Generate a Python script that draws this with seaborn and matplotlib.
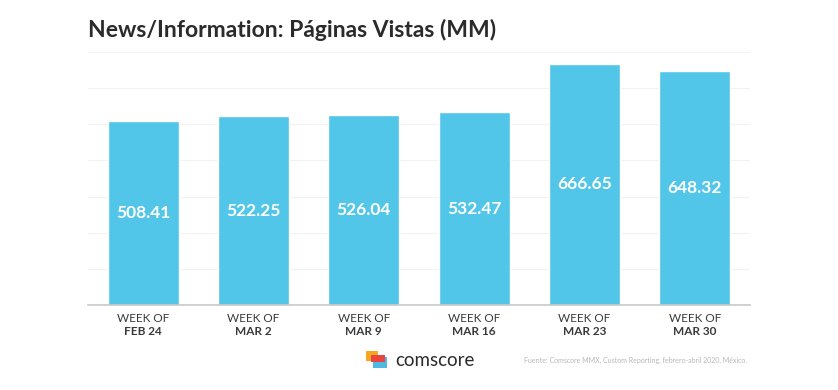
import matplotlib
matplotlib.use('Agg')
import matplotlib.pyplot as plt
import matplotlib.patches as mpatches
import matplotlib.transforms as mtransforms
import seaborn as sns
import pandas as pd

weeks = ['FEB 24', 'MAR 2', 'MAR 9', 'MAR 16', 'MAR 23', 'MAR 30']
page_views = [508.41, 522.25, 526.04, 532.47, 666.65, 648.32]
yticks = [0, 100, 200, 300, 400, 500, 600, 700]

title = 'News/Information: Páginas Vistas (MM)'
source = 'Fuente: Comscore MMX, Custom Reporting, febrero-abril 2020, México.'

bar_color = '#52c6e8'
text_dark = '#2b2b2b'


def main():
    sns.set_style('white')
    plt.rcParams['font.family'] = ['Lato', 'DejaVu Sans']

    df = pd.DataFrame({'week': weeks, 'views': page_views})

    fig = plt.figure(figsize=(8.38, 3.9), dpi=100)
    ax = fig.add_axes([0.105, 0.218, 0.79, 0.649])

    sns.barplot(data=df, x='week', y='views', color=bar_color,
                saturation=1, width=0.645, ax=ax, zorder=2)

    ax.set_ylim(0, 700)
    ax.set_xlim(-0.5, 5.5)
    ax.set_yticks(yticks)
    ax.yaxis.grid(True, color='#f2f2f2', linewidth=0.8, zorder=0)
    ax.set_axisbelow(True)
    ax.tick_params(axis='y', left=False, labelleft=False)
    ax.tick_params(axis='x', bottom=False, labelbottom=False)
    for side in ['top', 'right', 'left']:
        ax.spines[side].set_visible(False)
    ax.spines['bottom'].set_color('#c8c8c8')
    ax.spines['bottom'].set_linewidth(1.2)
    ax.set_xlabel('')
    ax.set_ylabel('')

    # two-line category labels: "WEEK OF" regular, date bold
    trans = mtransforms.blended_transform_factory(ax.transData, ax.transAxes)
    for i, w in enumerate(weeks):
        ax.text(i, -0.052, 'WEEK OF', transform=trans, ha='center', va='center',
                fontsize=8.5, color='#3a3a3a')
        ax.text(i, -0.104, w, transform=trans, ha='center', va='center',
                fontsize=8.5, fontweight='bold', color='#3a3a3a')

    # value labels in the middle of each bar
    for i, v in enumerate(page_views):
        ax.text(i, v / 2, f'{v:.2f}', ha='center', va='center',
                fontsize=12.5, fontweight='bold', color='white', zorder=3)

    fig.text(88 / 838, 1 - 30 / 390, title, ha='left', va='center',
             fontsize=16.5, fontweight='bold', color=text_dark)

    # comscore logo
    def px_rect(x0, y0, x1, y1, color):
        return mpatches.Rectangle((x0 / 838, 1 - y1 / 390),
                                  (x1 - x0) / 838, (y1 - y0) / 390,
                                  transform=fig.transFigure, color=color,
                                  linewidth=0)
    fig.patches.append(px_rect(373, 357, 387, 368, '#4fb8e3'))
    fig.patches.append(px_rect(366, 351, 378, 361, '#f5a623'))
    fig.patches.append(px_rect(371, 355, 385, 362, '#e8453c'))

    fig.text(395 / 838, 1 - 360 / 390, 'comscore', ha='left', va='center',
             fontsize=13.5, color=text_dark)
    fig.text(524 / 838, 1 - 360 / 390, source, ha='left', va='center',
             fontsize=5, color='#b8b8b8')

    fig.savefig('out.png', dpi=100)


if __name__ == '__main__':
    main()
